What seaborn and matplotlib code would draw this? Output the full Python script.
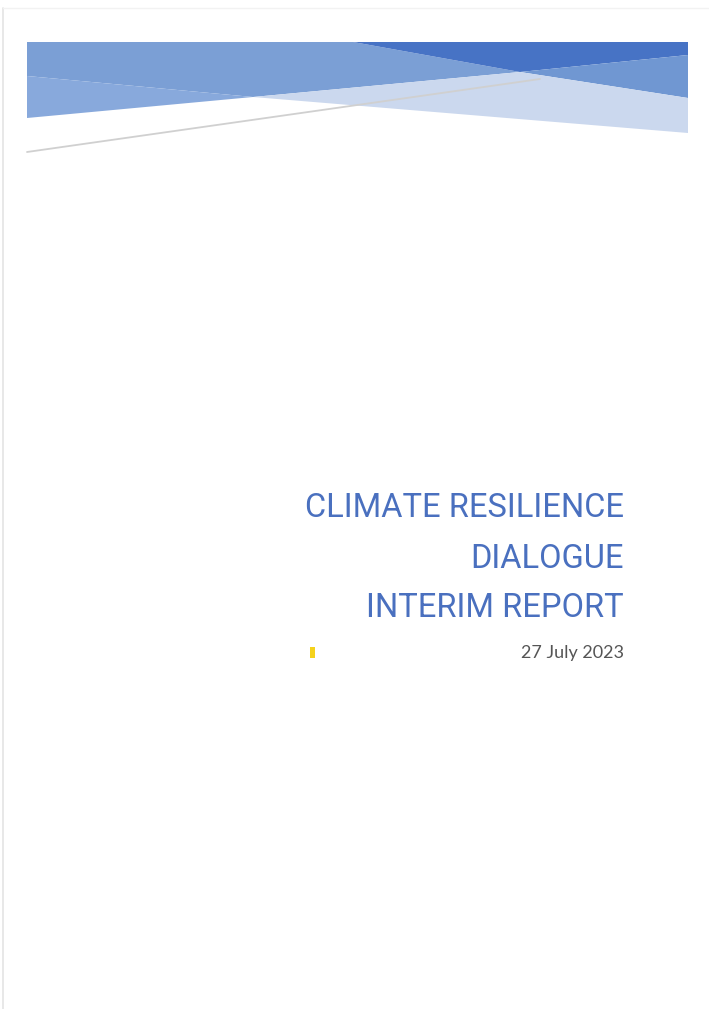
import matplotlib
matplotlib.use("Agg")
import matplotlib.pyplot as plt
import seaborn as sns

# page size in pixels
W, H = 709, 1009

# header band shapes (page pixel coords)
band_mid_upper = [(27, 42), (353, 42), (520, 72), (253, 97), (27, 76)]
band_mid_lower = [(27, 76), (253, 97), (27, 118)]
band_dark = [(353, 42), (688, 42), (688, 55), (520, 72)]
band_mid_right = [(520, 72), (688, 55), (688, 98)]
band_light = [(253, 97), (520, 72), (688, 98), (688, 133)]
rule_x = [27, 540]
rule_y = [152, 79]

title_lines = ["CLIMATE RESILIENCE", "DIALOGUE", "INTERIM REPORT"]
title_y = [517, 568, 617]
date_text = "27 July 2023"

sns.set_theme(style="white")
plt.rcParams['font.family'] = ['Roboto', 'DejaVu Sans']

fig = plt.figure(figsize=(W / 100, H / 100), dpi=100)
ax = fig.add_axes([0, 0, 1, 1])
ax.set_xlim(0, W)
ax.set_ylim(H, 0)
ax.axis("off")

# faint page edge
ax.plot([3, 3], [8, H], color="#e4e4e4", lw=1.2)
ax.plot([3, W], [8, 8], color="#f2f2f2", lw=1.0)

shapes = [(band_mid_upper, "#7b9fd5"), (band_mid_lower, "#88a9dc"),
          (band_dark, "#4773c5"), (band_mid_right, "#7097d2"),
          (band_light, "#cbd8ee")]
for pts, col in shapes:
    xs, ys = zip(*pts)
    ax.fill(xs, ys, color=col, lw=0)

sns.lineplot(x=rule_x, y=rule_y, ax=ax, color="#d0d0d0", lw=1.3)

for txt, y in zip(title_lines, title_y):
    ax.text(624, y, txt, ha="right", va="baseline", fontsize=23.5,
            color="#4a70bf")
ax.text(624, 658, date_text, ha="right", va="baseline", fontsize=13,
        color="#555555", family=['Lato', 'DejaVu Sans'])
ax.fill([310, 315, 315, 310], [647, 647, 658, 658], color="#f5d21c", lw=0)

fig.savefig("out.png", dpi=100)
